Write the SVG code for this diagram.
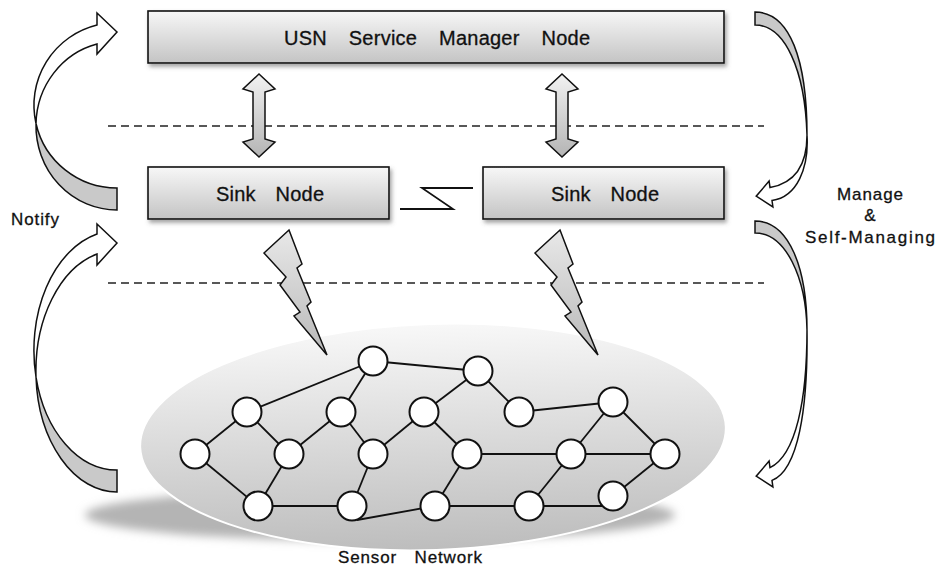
<svg xmlns="http://www.w3.org/2000/svg" width="937" height="566" viewBox="0 0 937 566">
<defs>
<linearGradient id="boxGrad" x1="0" y1="0" x2="0" y2="1">
<stop offset="0" stop-color="#f7f7f7"/>
<stop offset="1" stop-color="#c4c4c4"/>
</linearGradient>
<linearGradient id="arrGrad" x1="0" y1="0" x2="0" y2="1">
<stop offset="0" stop-color="#f2f2f2"/>
<stop offset="1" stop-color="#b4b4b4"/>
</linearGradient>
<linearGradient id="boltGrad" x1="0" y1="0" x2="0" y2="1">
<stop offset="0" stop-color="#e8e8e8"/>
<stop offset="1" stop-color="#b8b8b8"/>
</linearGradient>
<linearGradient id="ellGrad" x1="0" y1="0" x2="0" y2="1">
<stop offset="0" stop-color="#f8f8f8"/>
<stop offset="1" stop-color="#bdbdbd"/>
</linearGradient>
<filter id="shadow" x="-10%" y="-20%" width="120%" height="160%">
<feDropShadow dx="2" dy="3" stdDeviation="2" flood-color="#666" flood-opacity="0.6"/>
</filter>
<filter id="blur" x="-20%" y="-100%" width="140%" height="300%">
<feGaussianBlur stdDeviation="5"/>
</filter>
<polygon id="dbl" points="0,0 16,15 6,18 6,65 16,68 0,83 -16,68 -6,65 -6,18 -16,15"/>
<polygon id="bolt" points="289,230 302,264 297,268 311,302 307,306 327,355 294,316 300,312 280,285 286,277 264,253"/>
</defs>
<style>
.box{fill:url(#boxGrad);stroke:#111;stroke-width:1.6;filter:url(#shadow)}
.lbl{font-family:"Liberation Sans",Arial,sans-serif;font-size:20px;fill:#111;stroke:#111;stroke-width:0.3;text-anchor:middle}
.side{font-family:"Liberation Sans",Arial,sans-serif;font-size:17px;fill:#111;stroke:#111;stroke-width:0.3;text-anchor:middle}
.dash{stroke:#222;stroke-width:1.6;stroke-dasharray:8,5;fill:none}
.dbl{fill:url(#arrGrad);stroke:#111;stroke-width:1.5}
.bolt{fill:url(#boltGrad);stroke:#111;stroke-width:1.5;stroke-linejoin:miter}
.cw{fill:#fff;stroke:#111;stroke-width:1.5;stroke-linejoin:miter}
.cg{fill:#c9c9c9;stroke:#111;stroke-width:1.5}
.edge{stroke:#111;stroke-width:1.8;fill:none}
.sn{fill:#fff;stroke:#111;stroke-width:2}
</style>
<rect width="937" height="566" fill="#fff"/>

<g id="separators">
<line class="dash" x1="108" y1="126" x2="764" y2="126"/>
<line class="dash" x1="108" y1="283" x2="764" y2="283"/>
</g>

<g id="sensor-network-area">
<ellipse cx="380" cy="515" rx="295" ry="26" fill="#b4b4b4" filter="url(#blur)"/>
<ellipse cx="433" cy="437" rx="293" ry="113" fill="url(#ellGrad)" stroke="#fff" stroke-width="2" transform="rotate(-2 433 437)"/>
</g>

<g id="usn-service-manager">
<rect class="box" x="148" y="11" width="576" height="52"/>
<text class="lbl" x="437" y="45" word-spacing="16" textLength="306" lengthAdjust="spacing">USN Service Manager Node</text>
</g>
<g id="sink-node-1">
<rect class="box" x="148" y="167" width="241" height="52"/>
<text class="lbl" x="270" y="201" word-spacing="14" textLength="108" lengthAdjust="spacing">Sink Node</text>
</g>
<g id="sink-node-2">
<rect class="box" x="483" y="167" width="241" height="52"/>
<text class="lbl" x="605" y="201" word-spacing="14" textLength="108" lengthAdjust="spacing">Sink Node</text>
</g>

<g id="connectors">
<use href="#dbl" class="dbl" x="259" y="74"/>
<use href="#dbl" class="dbl" x="562" y="74"/>
<path class="edge" d="M400,209 L453,209 L422,188 L473,188" stroke-width="1.6"/>
<use href="#bolt" class="bolt"/>
<use href="#bolt" class="bolt" x="271"/>

<path class="cg" d="M36,123.5 A81,84.3 0 0,0 117,210 L117,188 A83,82.7 0 0,1 36,123.5 Z"/>
<path class="cw" d="M97,13 L117,32 L97,54 L97,44 A81,84.3 0 0,0 36,123.5 A83,82.7 0 0,1 97,25 Z"/>
<path class="cg" d="M36,377 A81,120.9 0 0,0 117,492 L117,470 A83,119.8 0 0,1 36,377 Z"/>
<path class="cw" d="M97,224 L117,243 L97,265 L97,254 A81,120.9 0 0,0 36,377 A83,119.8 0 0,1 97,234 Z"/>

<path class="cg" d="M755,12 C790,12 807,60 807,135 C805,70 785,25 755,25 Z"/>
<path class="cw" d="M807,135 C807,165 795,183 770,187.6 L769.1,181.1 L756.2,196.2 L772.9,206.9 L772,200.4 C797,197 809,168 807,135 Z"/>
<path class="cg" d="M755,221 C790,221 807,270 807,330 C806,278 786,233 755,233 Z"/>
<path class="cw" d="M807,330 C807,400 796,455 770,467.6 L769.1,461.1 L756.2,476.2 L772.9,486.9 L772,480.4 C798,470 808,410 807,330 Z"/>

<g id="network-links">
<line class="edge" x1="373" y1="361" x2="247" y2="412"/>
<line class="edge" x1="373" y1="361" x2="478" y2="371"/>
<line class="edge" x1="373" y1="361" x2="341" y2="412"/>
<line class="edge" x1="478" y1="371" x2="424" y2="412"/>
<line class="edge" x1="478" y1="371" x2="519" y2="412"/>
<line class="edge" x1="519" y1="412" x2="613" y2="402"/>
<line class="edge" x1="247" y1="412" x2="195" y2="454"/>
<line class="edge" x1="247" y1="412" x2="289" y2="454"/>
<line class="edge" x1="341" y1="412" x2="289" y2="454"/>
<line class="edge" x1="341" y1="412" x2="373" y2="454"/>
<line class="edge" x1="424" y1="412" x2="373" y2="454"/>
<line class="edge" x1="424" y1="412" x2="467" y2="454"/>
<line class="edge" x1="195" y1="454" x2="258" y2="506"/>
<line class="edge" x1="289" y1="454" x2="258" y2="506"/>
<line class="edge" x1="373" y1="454" x2="352" y2="506"/>
<line class="edge" x1="258" y1="506" x2="352" y2="506"/>
<line class="edge" x1="357" y1="520" x2="435" y2="506"/>
<line class="edge" x1="467" y1="454" x2="435" y2="506"/>
<line class="edge" x1="467" y1="454" x2="571" y2="454"/>
<line class="edge" x1="435" y1="506" x2="529" y2="506"/>
<line class="edge" x1="571" y1="454" x2="613" y2="402"/>
<line class="edge" x1="571" y1="454" x2="665" y2="454"/>
<line class="edge" x1="613" y1="402" x2="665" y2="454"/>
<line class="edge" x1="571" y1="454" x2="529" y2="506"/>
<line class="edge" x1="529" y1="506" x2="602" y2="506"/>
<line class="edge" x1="613" y1="496" x2="665" y2="454"/>
</g>
</g>

<g id="sensor-nodes">
<circle id="sn-a" class="sn" cx="373" cy="361" r="14.5"/>
<circle id="sn-b" class="sn" cx="478" cy="371" r="14.5"/>
<circle id="sn-c" class="sn" cx="247" cy="412" r="14.5"/>
<circle id="sn-d" class="sn" cx="341" cy="412" r="14.5"/>
<circle id="sn-e" class="sn" cx="424" cy="412" r="14.5"/>
<circle id="sn-f" class="sn" cx="519" cy="412" r="14.5"/>
<circle id="sn-g" class="sn" cx="195" cy="454" r="14.5"/>
<circle id="sn-h" class="sn" cx="289" cy="454" r="14.5"/>
<circle id="sn-i" class="sn" cx="373" cy="454" r="14.5"/>
<circle id="sn-j" class="sn" cx="467" cy="454" r="14.5"/>
<circle id="sn-k" class="sn" cx="258" cy="506" r="14.5"/>
<circle id="sn-l" class="sn" cx="352" cy="506" r="14.5"/>
<circle id="sn-m" class="sn" cx="435" cy="506" r="14.5"/>
<circle id="sn-n" class="sn" cx="529" cy="506" r="14.5"/>
<circle id="sn-o" class="sn" cx="613" cy="402" r="14.5"/>
<circle id="sn-p" class="sn" cx="571" cy="454" r="14.5"/>
<circle id="sn-q" class="sn" cx="665" cy="454" r="14.5"/>
<circle id="sn-s" class="sn" cx="613" cy="496" r="14.5"/>
</g>

<g id="labels">
<text class="side" x="35" y="225" textLength="48" lengthAdjust="spacing">Notify</text>
<text class="side" x="870" y="200" textLength="66" lengthAdjust="spacing">Manage</text>
<text class="side" x="870" y="221">&amp;</text>
<text class="side" x="870" y="243" textLength="130" lengthAdjust="spacing">Self-Managing</text>
<text class="side" x="410" y="563" word-spacing="12" textLength="144" lengthAdjust="spacing">Sensor Network</text>
</g>
</svg>
